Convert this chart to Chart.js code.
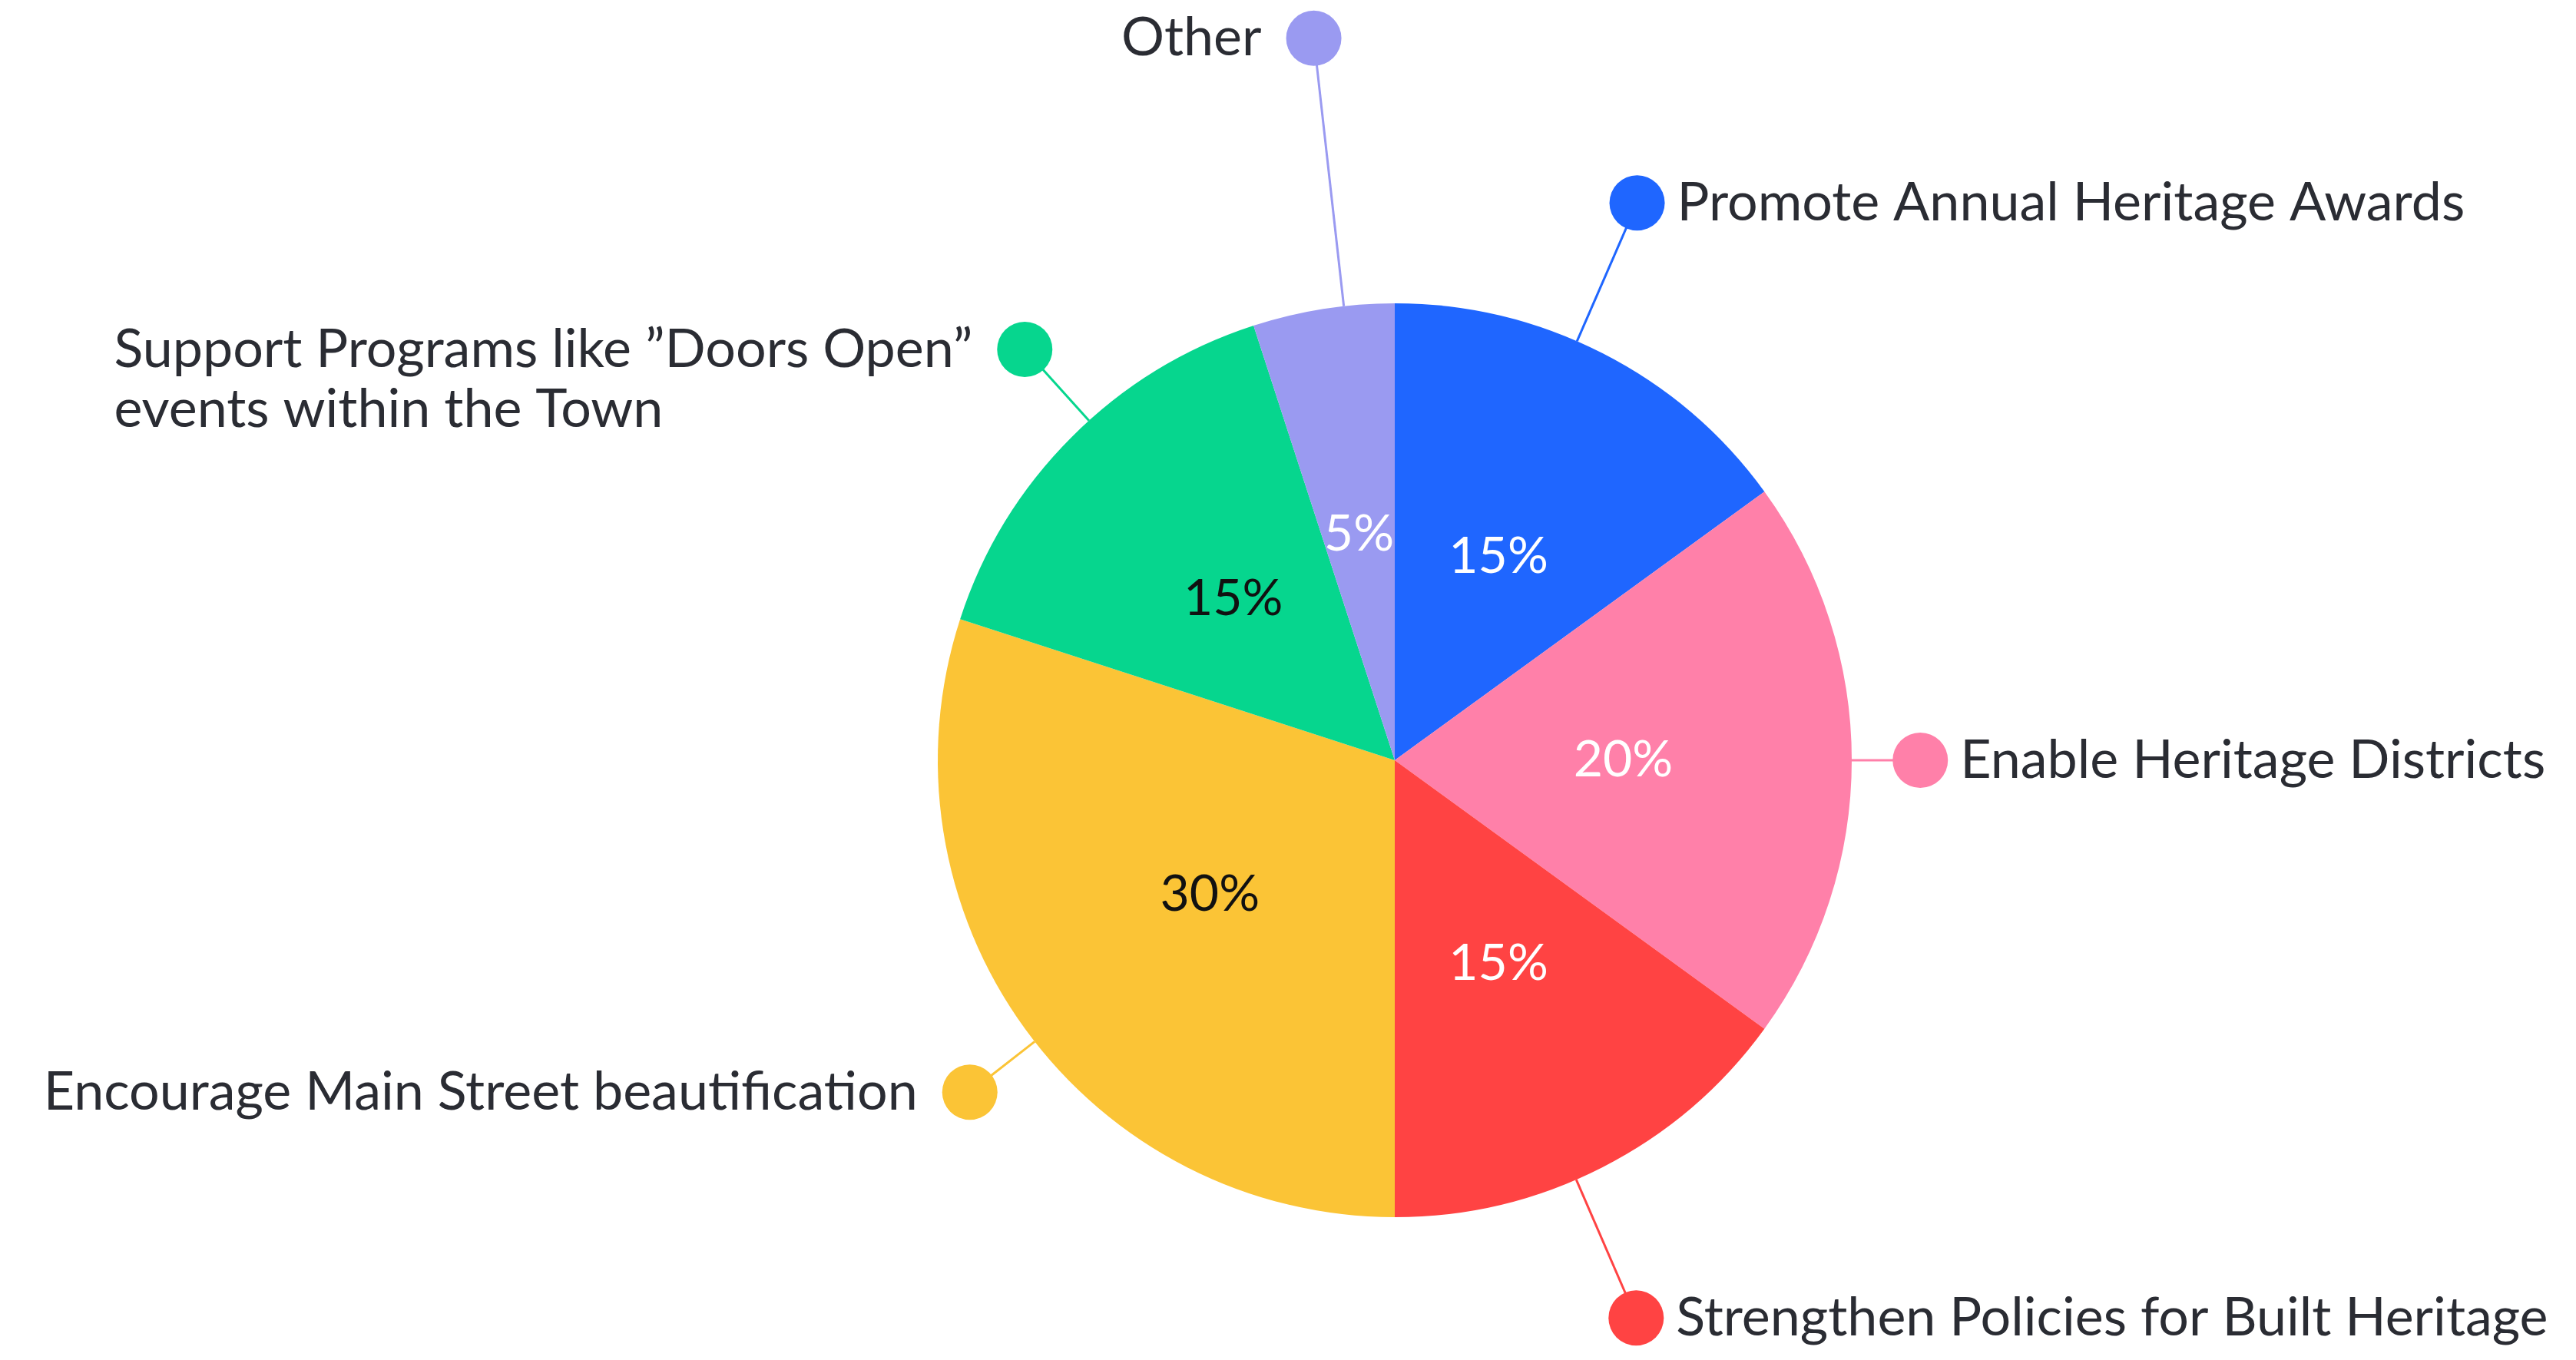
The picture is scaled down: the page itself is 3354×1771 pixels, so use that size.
<!DOCTYPE html>
<html>
<head>
<meta charset="utf-8">
<script src="https://cdn.jsdelivr.net/npm/chart.js@4.4.1/dist/chart.umd.min.js"></script>
<style>
  html, body { margin: 0; padding: 0; background: #ffffff; }
  canvas { display: block; }
</style>
</head>
<body>
<canvas id="heritageChart" width="3354" height="1771"></canvas>
<script>
const categories = [
  'Promote Annual Heritage Awards',
  'Enable Heritage Districts',
  'Strengthen Policies for Built Heritage',
  'Encourage Main Street beautification',
  ['Support Programs like \u201DDoors Open\u201D', 'events within the Town'],
  'Other'
];
const shares = [15, 20, 15, 30, 15, 5];
const sliceColors = ['#1F66FF', '#FF80A9', '#FF4343', '#FBC436', '#06D68E', '#9A9AF1'];
const percentColors = ['#ffffff', '#ffffff', '#ffffff', '#111111', '#111111', '#ffffff'];

// leader lines: angle nudge (deg), dot distance (x radius), label side
const callouts = [
  { nudge: -3.5, dist: 1.33, side: 'right' },
  { nudge: 0,    dist: 1.15, side: 'right' },
  { nudge: 3.6,  dist: 1.33, side: 'right' },
  { nudge: -2,   dist: 1.18, side: 'left' },
  { nudge: 3,    dist: 1.21, side: 'left' },
  { nudge: 2.6,  dist: 1.59, side: 'left' },
];

const FONT = 'Lato, "Noto Sans", sans-serif';

const calloutPlugin = {
  id: 'callouts',
  afterDatasetsDraw(chart) {
    const c = chart.ctx;
    const meta = chart.getDatasetMeta(0);
    meta.data.forEach((arc, i) => {
      const p = arc.getProps(['x', 'y', 'startAngle', 'endAngle', 'outerRadius']);
      const mid = (p.startAngle + p.endAngle) / 2;

      // percent label inside the slice
      const lx = p.x + Math.cos(mid) * p.outerRadius * 0.5;
      const ly = p.y + Math.sin(mid) * p.outerRadius * 0.5;
      c.save();
      c.font = '400 66px ' + FONT;
      c.fillStyle = percentColors[i];
      c.textAlign = 'center';
      c.textBaseline = 'middle';
      c.fillText(shares[i] + '%', lx, ly);
      c.restore();

      // leader line + dot + label
      const co = callouts[i];
      const a = mid + co.nudge * Math.PI / 180;
      const x0 = p.x + Math.cos(a) * p.outerRadius;
      const y0 = p.y + Math.sin(a) * p.outerRadius;
      const x1 = p.x + Math.cos(a) * p.outerRadius * co.dist;
      const y1 = p.y + Math.sin(a) * p.outerRadius * co.dist;
      c.save();
      c.strokeStyle = sliceColors[i];
      c.lineWidth = 3;
      c.beginPath();
      c.moveTo(x0, y0);
      c.lineTo(x1, y1);
      c.stroke();
      c.fillStyle = sliceColors[i];
      c.beginPath();
      c.arc(x1, y1, 36, 0, Math.PI * 2);
      c.fill();

      const lines = Array.isArray(categories[i]) ? categories[i] : [categories[i]];
      c.font = '400 70px ' + FONT;
      c.fillStyle = '#2a2c33';
      c.textBaseline = 'middle';
      c.textAlign = 'left';
      const w = Math.max(...lines.map(t => c.measureText(t).width));
      const tx = co.side === 'right' ? x1 + 52 : x1 - 68 - w;
      lines.forEach((t, k) => c.fillText(t, tx, y1 + k * 78));
      c.restore();
    });
  }
};

new Chart(document.getElementById('heritageChart'), {
  type: 'pie',
  data: {
    labels: categories,
    datasets: [{
      data: shares,
      backgroundColor: sliceColors,
      borderWidth: 0,
    }]
  },
  options: {
    responsive: false,
    animation: false,
    layout: {
      padding: { top: 395, bottom: 186, left: 1221, right: 943 }
    },
    plugins: {
      legend: { display: false },
      tooltip: { enabled: false }
    }
  },
  plugins: [calloutPlugin]
});
</script>
</body>
</html>
